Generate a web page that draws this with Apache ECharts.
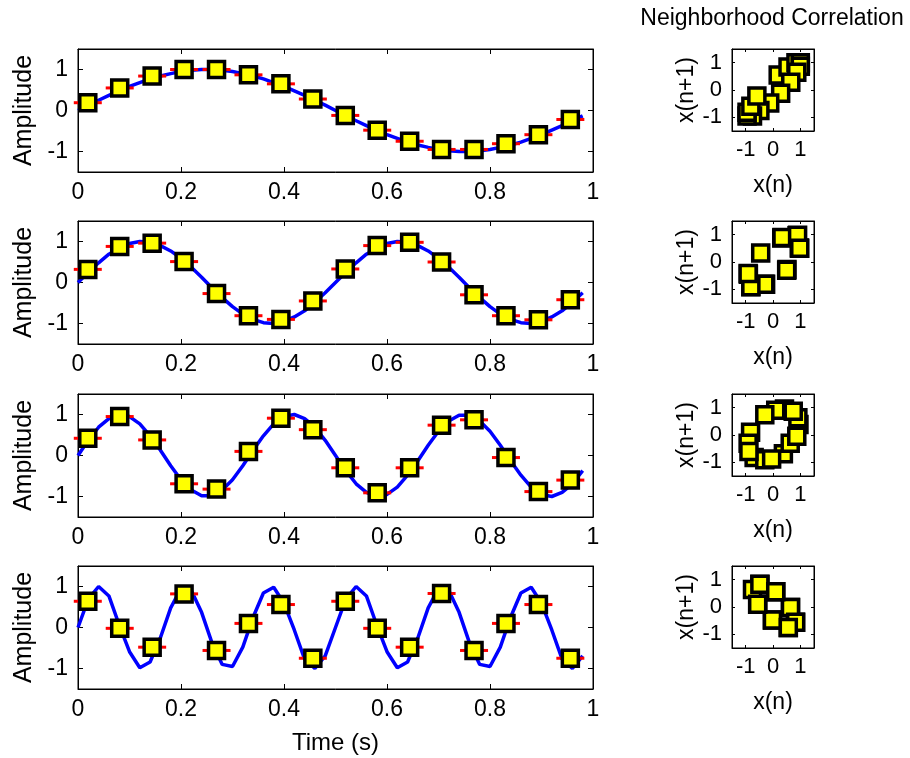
<!DOCTYPE html>
<html>
<head>
<meta charset="utf-8">
<script src="https://cdn.jsdelivr.net/npm/echarts@6/dist/echarts.min.js"></script>
<style>
html, body { margin: 0; padding: 0; background: #fff; }
#chart { width: 910px; height: 758px; }
</style>
</head>
<body>
<div id="chart"></div>
<script>
// time axis of the blue curves (s)
const curveTimes = [0, 0.02, 0.04, 0.06, 0.08, 0.1, 0.12, 0.14, 0.16, 0.18, 0.2, 0.22, 0.24, 0.26, 0.28, 0.3, 0.32, 0.34, 0.36, 0.38, 0.4, 0.42, 0.44, 0.46, 0.48, 0.5, 0.52, 0.54, 0.56, 0.58, 0.6, 0.62, 0.64, 0.66, 0.68, 0.7, 0.72, 0.74, 0.76, 0.78, 0.8, 0.82, 0.84, 0.86, 0.88, 0.9, 0.92, 0.94, 0.96, 0.98];

// blue curves, one per row
const wave1 = [0, 0.13, 0.25, 0.37, 0.48, 0.59, 0.68, 0.77, 0.84, 0.9, 0.95, 0.98, 1, 1, 0.98, 0.95, 0.9, 0.84, 0.77, 0.68, 0.59, 0.48, 0.37, 0.25, 0.13, 0, -0.13, -0.25, -0.37, -0.48, -0.59, -0.68, -0.77, -0.84, -0.9, -0.95, -0.98, -1, -1, -0.98, -0.95, -0.9, -0.84, -0.77, -0.68, -0.59, -0.48, -0.37, -0.25, -0.13];
const wave2 = [0, 0.25, 0.48, 0.69, 0.84, 0.95, 1, 0.98, 0.9, 0.77, 0.59, 0.37, 0.13, -0.13, -0.37, -0.59, -0.77, -0.9, -0.98, -1, -0.95, -0.84, -0.69, -0.48, -0.25, 0, 0.25, 0.48, 0.69, 0.84, 0.95, 1, 0.98, 0.9, 0.77, 0.59, 0.37, 0.13, -0.13, -0.37, -0.59, -0.77, -0.9, -0.98, -1, -0.95, -0.84, -0.69, -0.48, -0.25];
const wave3 = [0, 0.37, 0.69, 0.9, 1, 0.95, 0.77, 0.48, 0.13, -0.25, -0.59, -0.84, -0.98, -0.98, -0.84, -0.59, -0.25, 0.13, 0.48, 0.77, 0.95, 1, 0.9, 0.69, 0.37, 0, -0.37, -0.69, -0.9, -1, -0.95, -0.77, -0.48, -0.13, 0.25, 0.59, 0.84, 0.98, 0.98, 0.84, 0.59, 0.25, -0.13, -0.48, -0.77, -0.95, -1, -0.9, -0.69, -0.37];
const wave4 = [0, 0.69, 1, 0.77, 0.06, -0.59, -0.98, -0.84, -0.25, 0.48, 0.95, 0.9, 0.37, -0.37, -0.9, -0.95, -0.48, 0.25, 0.84, 0.98, 0.59, -0.06, -0.77, -1, -0.69, 0, 0.69, 1, 0.77, 0.06, -0.59, -0.98, -0.84, -0.25, 0.48, 0.95, 0.9, 0.37, -0.37, -0.9, -0.95, -0.48, 0.25, 0.84, 0.98, 0.59, -0.06, -0.77, -1, -0.69];

// sample instants and sampled values (yellow squares)
const sampleTimes = [0.019, 0.081, 0.144, 0.206, 0.269, 0.331, 0.394, 0.456, 0.519, 0.581, 0.644, 0.706, 0.769, 0.831, 0.894, 0.956];
const samples1 = [0.19, 0.55, 0.84, 1.0, 1.0, 0.87, 0.65, 0.28, -0.12, -0.48, -0.75, -0.95, -0.95, -0.81, -0.59, -0.22];
const samples2 = [0.32, 0.88, 0.96, 0.51, -0.27, -0.81, -0.9, -0.45, 0.33, 0.9, 0.98, 0.5, -0.3, -0.81, -0.91, -0.42];
const samples3 = [0.42, 0.95, 0.38, -0.69, -0.82, 0.1, 0.91, 0.63, -0.3, -0.91, -0.3, 0.74, 0.87, -0.05, -0.88, -0.6];
const samples4 = [0.64, -0.02, -0.48, 0.82, -0.56, 0.1, 0.56, -0.75, 0.64, -0.02, -0.48, 0.83, -0.56, 0.1, 0.56, -0.75];

// tick labels
const timeTicks = [0, 0.2, 0.4, 0.6, 0.8, 1];
const ampTicks = [-1, 0, 1];

const rows = [
    { wave: wave1, samples: samples1 },
    { wave: wave2, samples: samples2 },
    { wave: wave3, samples: samples3 },
    { wave: wave4, samples: samples4 }
];

const FONT = '"Liberation Sans", Arial, Helvetica, sans-serif';
const rowTops = [49, 221, 394, 566];

const grid = [];
const xAxis = [];
const yAxis = [];
const series = [];

const black = { color: '#000', width: 1 };

function valueAxis(gridIndex, position, range, ticks, opts) {
    return Object.assign({
        gridIndex: gridIndex,
        type: 'value',
        position: position,
        min: range[0],
        max: range[1],
        axisLine: { show: true, onZero: false, lineStyle: black },
        axisTick: { show: true, inside: true, length: 5, lineStyle: black, customValues: ticks },
        axisLabel: { show: false, customValues: ticks },
        splitLine: { show: false }
    }, opts || {});
}

function labelStyle(size, margin, ticks) {
    return { show: true, color: '#000', fontSize: size, fontFamily: FONT, margin: margin, customValues: ticks };
}

function nameStyle(size) {
    return { color: '#000', fontSize: size, fontFamily: FONT };
}

rows.forEach((row, i) => {
    const top = rowTops[i];
    const gLeft = grid.length;
    grid.push({ left: 78, top: top, width: 515, height: 123, show: true, borderColor: '#000', borderWidth: 1 });
    const gRight = grid.length;
    grid.push({ left: 732, top: top, width: 82, height: 82, show: true, borderColor: '#000', borderWidth: 1 });

    // time plot axes
    const xi = xAxis.length;
    xAxis.push(valueAxis(gLeft, 'bottom', [0, 1], timeTicks, {
        axisLabel: labelStyle(23, 9, timeTicks),
        name: i === 3 ? 'Time (s)' : '',
        nameLocation: 'middle',
        nameGap: 42,
        nameTextStyle: nameStyle(24)
    }));
    xAxis.push(valueAxis(gLeft, 'top', [0, 1], timeTicks));
    const yi = yAxis.length;
    yAxis.push(valueAxis(gLeft, 'left', [-1.5, 1.5], ampTicks, {
        axisLabel: labelStyle(23, 10, ampTicks),
        name: 'Amplitude',
        nameLocation: 'middle',
        nameRotate: 90,
        nameGap: 38,
        nameTextStyle: nameStyle(25)
    }));
    yAxis.push(valueAxis(gLeft, 'right', [-1.5, 1.5], ampTicks));

    // neighborhood correlation axes
    const smallTick = { show: true, inside: true, length: 3, lineStyle: black, customValues: ampTicks };
    const xs = xAxis.length;
    xAxis.push(valueAxis(gRight, 'bottom', [-1.5, 1.5], ampTicks, {
        axisTick: smallTick,
        axisLabel: labelStyle(22, 8, ampTicks),
        name: 'x(n)',
        nameLocation: 'middle',
        nameGap: 43,
        nameTextStyle: nameStyle(23)
    }));
    xAxis.push(valueAxis(gRight, 'top', [-1.5, 1.5], ampTicks, { axisTick: smallTick }));
    const ys = yAxis.length;
    yAxis.push(valueAxis(gRight, 'left', [-1.5, 1.5], ampTicks, {
        axisTick: smallTick,
        axisLabel: labelStyle(22, 10, ampTicks),
        name: 'x(n+1)',
        nameLocation: 'middle',
        nameRotate: 90,
        nameGap: 33,
        nameTextStyle: nameStyle(23)
    }));
    yAxis.push(valueAxis(gRight, 'right', [-1.5, 1.5], ampTicks, { axisTick: smallTick }));

    const pts = row.samples.map((v, k) => [sampleTimes[k], v]);
    const pairs = row.samples.slice(0, -1).map((v, k) => [v, row.samples[k + 1]]);
    const squareStyle = { color: '#ffff00', borderColor: '#000', borderWidth: 3.5, opacity: 1 };

    series.push({
        type: 'line',
        xAxisIndex: xi,
        yAxisIndex: yi,
        data: row.wave.map((v, k) => [curveTimes[k], v]),
        showSymbol: false,
        lineStyle: { color: '#0000ff', width: 3.5 },
        z: 2
    });
    series.push({
        type: 'custom',
        xAxisIndex: xi,
        yAxisIndex: yi,
        data: pts,
        renderItem: (params, api) => {
            const p = api.coord([api.value(0), api.value(1)]);
            return {
                type: 'line',
                shape: { x1: p[0] - 14, y1: p[1], x2: p[0] + 14, y2: p[1] },
                style: { stroke: '#ff0000', lineWidth: 3 }
            };
        },
        z: 3
    });
    series.push({
        type: 'scatter',
        xAxisIndex: xi,
        yAxisIndex: yi,
        data: pts,
        symbol: 'rect',
        symbolSize: 16,
        itemStyle: squareStyle,
        z: 4
    });
    series.push({
        type: 'scatter',
        xAxisIndex: xs,
        yAxisIndex: ys,
        data: pairs,
        symbol: 'rect',
        symbolSize: 16,
        itemStyle: squareStyle,
        z: 4
    });
});

const chart = echarts.init(document.getElementById('chart'), null, { renderer: 'canvas' });
chart.setOption({
    animation: false,
    backgroundColor: '#fff',
    textStyle: { fontFamily: FONT },
    graphic: [{
        type: 'text',
        x: 772,
        y: 19,
        style: {
            text: 'Neighborhood Correlation',
            fill: '#000',
            font: '23px ' + FONT,
            textAlign: 'center',
            textVerticalAlign: 'middle'
        }
    }],
    grid: grid,
    xAxis: xAxis,
    yAxis: yAxis,
    series: series
});
</script>
</body>
</html>
